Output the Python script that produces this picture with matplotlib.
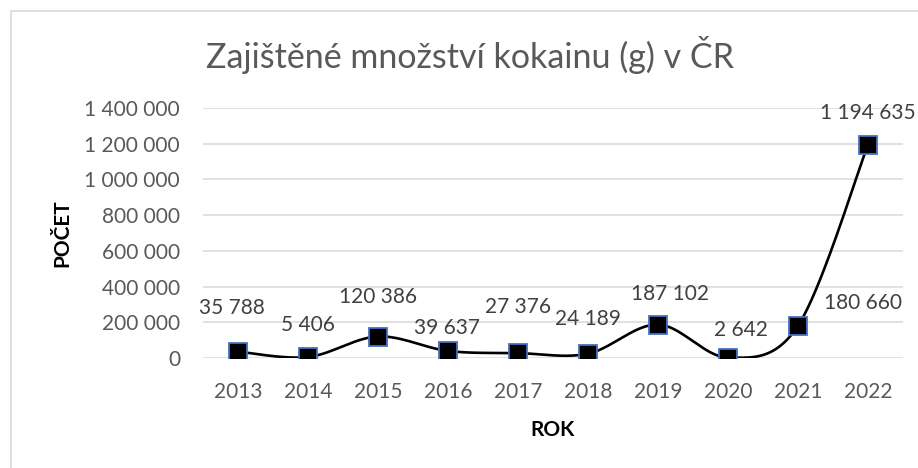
import numpy as np
import matplotlib
matplotlib.use("Agg")
import matplotlib.pyplot as plt
from matplotlib.patches import Rectangle

# ---- data ----
years = ["2013", "2014", "2015", "2016", "2017", "2018", "2019", "2020", "2021", "2022"]
values = [35788, 5406, 120386, 39637, 27376, 24189, 187102, 2642, 180660, 1194635]
value_labels = ["35 788", "5 406", "120 386", "39 637", "27 376", "24 189",
                "187 102", "2 642", "180 660", "1 194 635"]
ytick_values = [0, 200000, 400000, 600000, 800000, 1000000, 1200000, 1400000]
ytick_labels = ["0", "200 000", "400 000", "600 000", "800 000", "1 000 000", "1 200 000", "1 400 000"]
title = "Zajištěné množství kokainu (g) v ČR"
xlabel = "ROK"
ylabel = "POČET"

# label offsets (pixels, dx, dy) - styling only
label_offsets = [(-6, 45), (0, 34), (0, 41), (-1, 24), (0, 48), (0, 36), (12, 32), (13, 29), (65, 24), (0, 33)]

FONT = ["Lato", "DejaVu Sans"]
plt.rcParams["font.family"] = FONT

W, H = 918, 468
fig = plt.figure(figsize=(W / 100, H / 100), dpi=100)
fig.patch.set_facecolor("white")

# outer chart border (left and top visible; right/bottom run off the image)
fig.patches.append(Rectangle((10.5 / W, -20 / H), (960 - 10.5) / W, (H + 20 - 10.5) / H,
                             transform=fig.transFigure, fill=False,
                             edgecolor="#D9D9D9", linewidth=1.2))

ax = fig.add_axes([203 / W, (H - 358) / H, 700 / W, 250 / H])
ax.set_facecolor("none")

x = np.arange(len(years))
y = np.array(values, dtype=float)

# Excel-like smoothed line (Catmull-Rom / Bezier)
P = np.column_stack([x, y]).astype(float)
Pext = np.vstack([P[0], P, P[-1]])
curve = []
t = np.linspace(0, 1, 40)
for i in range(len(P) - 1):
    p0, p1, p2, p3 = Pext[i], Pext[i + 1], Pext[i + 2], Pext[i + 3]
    c1 = p1 + (p2 - p0) / 6.0
    c2 = p2 - (p3 - p1) / 6.0
    seg = ((1 - t)[:, None] ** 3 * p1 + 3 * ((1 - t) ** 2 * t)[:, None] * c1
           + 3 * ((1 - t) * t ** 2)[:, None] * c2 + (t ** 3)[:, None] * p2)
    curve.append(seg)
curve = np.vstack(curve)
ax.plot(curve[:, 0], curve[:, 1], color="black", linewidth=1.9, zorder=3,
        solid_capstyle="round")
ax.plot(x, y, linestyle="none", marker="s", markersize=13.5,
        markerfacecolor="black", markeredgecolor="#4472C4", markeredgewidth=1.3, zorder=4)

for xi, yi, lab, (dx, dy) in zip(x, y, value_labels, label_offsets):
    ax.annotate(lab, (xi, yi), xytext=(dx * 0.72, (dy - 7.5) * 0.72),
                textcoords="offset points", ha="center", va="baseline",
                fontsize=15, color="#404040", zorder=5)

ax.set_xlim(-0.5, len(years) - 0.5)
ax.set_ylim(0, 1400000)
ax.set_xticks(x)
ax.set_xticklabels(years)
ax.set_yticks(ytick_values)
ax.set_yticklabels(ytick_labels)
ax.tick_params(axis="both", length=0, labelsize=15, labelcolor="#595959")
ax.tick_params(axis="y", pad=16.5)
ax.tick_params(axis="x", pad=17)
ax.grid(axis="y", color="#D9D9D9", linewidth=1.1, zorder=0)
ax.set_axisbelow(True)
for s in ax.spines.values():
    s.set_visible(False)

fig.text(470 / W, (H - 68) / H, title, ha="center", va="baseline",
         fontsize=24.5, color="#595959")
fig.text(553 / W, (H - 435.5) / H, xlabel, ha="center", va="baseline",
         fontsize=15, fontweight="bold", color="black")
fig.text(62 / W, (H - 233) / H, ylabel, ha="center", va="center", rotation=90,
         fontsize=15, fontweight="bold", color="black")

fig.savefig("out.png", dpi=100)
